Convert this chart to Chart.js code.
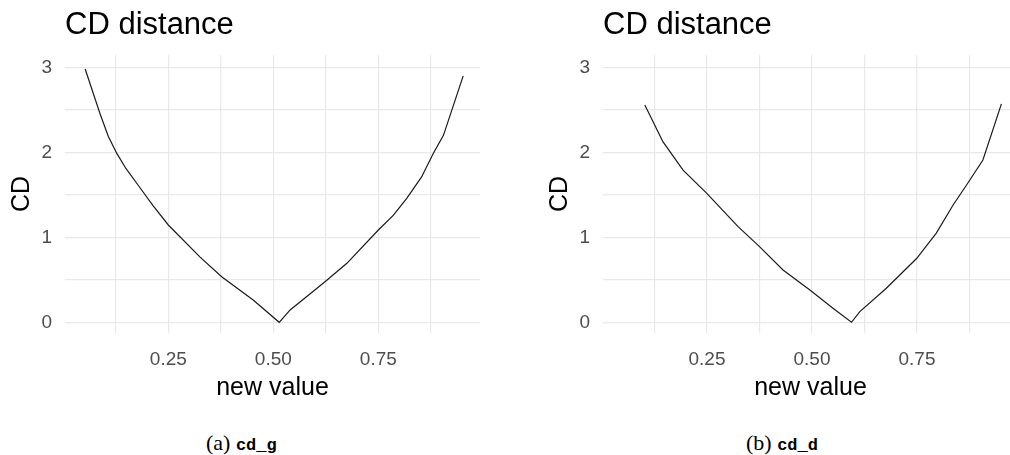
<!DOCTYPE html>
<html lang="en">
<head>
    <meta charset="UTF-8">
    <title>CD distance</title>
    <script src="https://cdn.jsdelivr.net/npm/chart.js"></script>
    <style>
        body {
            margin: 0;
            width: 1010px;
            height: 455px;
            overflow: hidden;
            position: relative;
            background: #fff;
        }
        canvas { position: absolute; top: 0; }
        #chartG { left: 0; }
        #chartD { left: 538px; }
        .caption {
            position: absolute;
            top: 430px;
            font-family: 'Liberation Serif', serif;
            font-size: 22px;
            color: #000;
            white-space: nowrap;
        }
        .caption code {
            font-family: 'Liberation Mono', monospace;
            font-size: 17px;
            font-weight: bold;
        }
    </style>
</head>
<body>
    <canvas id="chartG" width="500" height="420"></canvas>
    <canvas id="chartD" width="500" height="420"></canvas>
    <div class="caption" style="left:206px">(a) <code>cd_g</code></div>
    <div class="caption" style="left:746px">(b) <code>cd_d</code></div>

    <script>
        // (a) cd_g
        const newValueG = [0.052, 0.087, 0.107, 0.127, 0.149, 0.183, 0.214, 0.25, 0.325, 0.377, 0.452, 0.514,
                           0.54, 0.623, 0.675, 0.75, 0.786, 0.818, 0.853, 0.881, 0.905, 0.952];
        const cdG = [2.98, 2.46, 2.19, 1.99, 1.81, 1.58, 1.37, 1.145, 0.77, 0.536, 0.262, 0.0,
                     0.145, 0.478, 0.694, 1.086, 1.26, 1.46, 1.71, 1.99, 2.20, 2.90];

        // (b) cd_d
        const newValueD = [0.102, 0.145, 0.193, 0.249, 0.324, 0.375, 0.431, 0.495, 0.55, 0.594,
                           0.614, 0.677, 0.749, 0.796, 0.836, 0.868, 0.907, 0.951];
        const cdD = [2.556, 2.125, 1.79, 1.52, 1.125, 0.89, 0.615, 0.38, 0.165, 0.0,
                     0.125, 0.40, 0.75, 1.05, 1.38, 1.615, 1.91, 2.57];

        // grid lines (major + minor) and the labels shown on them
        const xGrid = [0.125, 0.25, 0.375, 0.5, 0.625, 0.75, 0.875];
        const xLabels = ['0.25', '0.50', '0.75'];
        const yGrid = [0, 0.5, 1, 1.5, 2, 2.5, 3];
        const yLabels = ['0', '1', '2', '3'];

        const gridColor = '#e8e8e8';
        const tickColor = '#4d4d4d';
        const font = 'Liberation Sans';

        function makeChart(id, xs, ys, xMin, xMax) {
            const ctx = document.getElementById(id).getContext('2d');
            return new Chart(ctx, {
                type: 'scatter',
                data: {
                    datasets: [{
                        data: xs.map((x, i) => ({ x: x, y: ys[i] })),
                        showLine: true,
                        borderColor: '#1a1a1a',
                        borderWidth: 1.2,
                        pointRadius: 0,
                        tension: 0
                    }]
                },
                options: {
                    responsive: false,
                    animation: false,
                    layout: { padding: { left: 0, right: 20, top: 0, bottom: 0 } },
                    plugins: {
                        legend: { display: false },
                        tooltip: { enabled: false },
                        title: {
                            display: true,
                            text: 'CD distance',
                            align: 'start',
                            fullSize: false,
                            color: '#000',
                            font: { family: font, size: 31, weight: 'normal', lineHeight: 1.2 },
                            padding: { top: 7, bottom: 10.8 }
                        }
                    },
                    scales: {
                        x: {
                            type: 'linear',
                            min: xMin,
                            max: xMax,
                            afterBuildTicks: s => { s.ticks = xGrid.map(v => ({ value: v })); },
                            afterFit: s => { s.height = 87; },
                            border: { display: false },
                            grid: { color: gridColor, lineWidth: 1.2, drawTicks: false },
                            ticks: {
                                autoSkip: false,
                                maxRotation: 0,
                                padding: 15,
                                color: tickColor,
                                font: { family: font, size: 19 },
                                callback: v => {
                                    const s = v.toFixed(2);
                                    return xLabels.includes(s) ? s : '';
                                }
                            },
                            title: {
                                display: true,
                                text: 'new value',
                                color: '#000',
                                font: { family: font, size: 25, lineHeight: 1.2 },
                                padding: { top: 0, bottom: 17 }
                            }
                        },
                        y: {
                            min: -0.126,
                            max: 3.145,
                            afterBuildTicks: s => { s.ticks = yGrid.map(v => ({ value: v })); },
                            afterFit: s => { s.width = 65; },
                            border: { display: false },
                            grid: { color: gridColor, lineWidth: 1.2, drawTicks: false },
                            ticks: {
                                padding: 13,
                                color: tickColor,
                                font: { family: font, size: 19 },
                                callback: v => {
                                    const s = String(v);
                                    return yLabels.includes(s) ? s : '';
                                }
                            },
                            title: {
                                display: true,
                                text: 'CD',
                                color: '#000',
                                font: { family: font, size: 25, lineHeight: 1.2 },
                                padding: { top: 7, bottom: 0 }
                            }
                        }
                    }
                }
            });
        }

        makeChart('chartG', newValueG, cdG, 0.004, 0.992);
        makeChart('chartD', newValueD, cdD, 0.0024, 0.9905);
    </script>
</body>
</html>
